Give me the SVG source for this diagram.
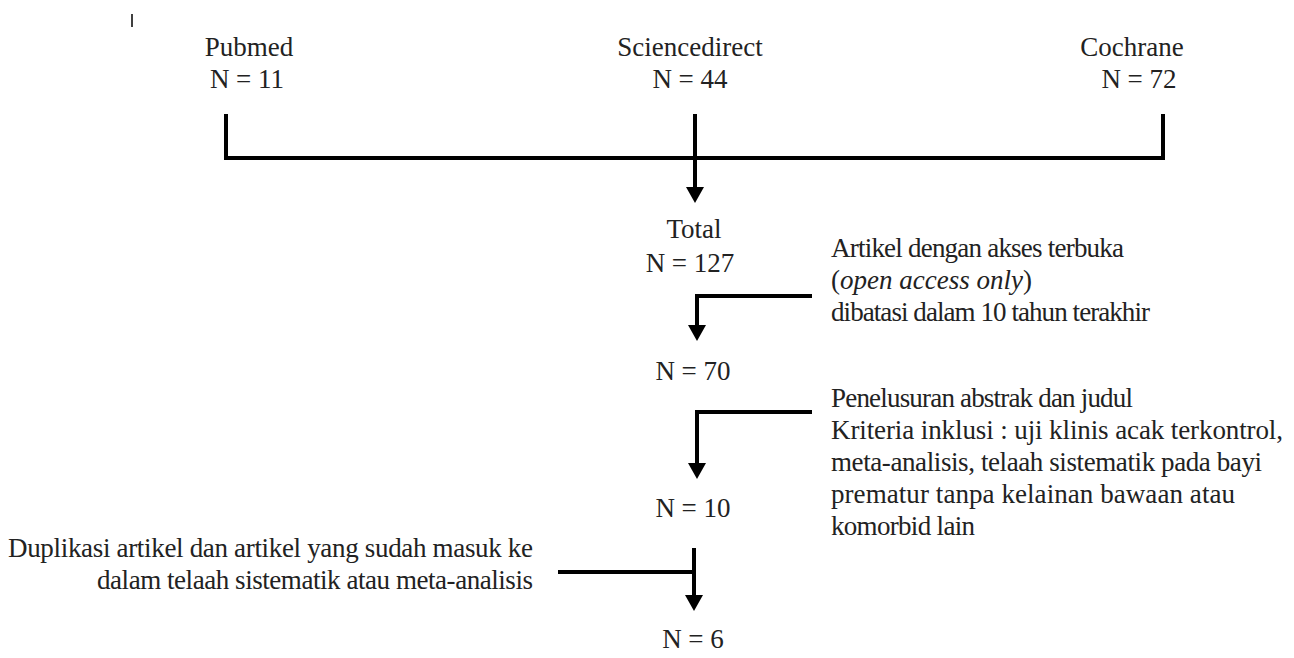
<svg xmlns="http://www.w3.org/2000/svg" width="1294" height="658" viewBox="0 0 1294 658">
<style>
.t{font-family:"Liberation Serif","Times New Roman",Tinos,"DejaVu Serif","Noto Serif",serif;font-size:27px;fill:#222}
.c{text-anchor:middle}
.r{text-anchor:end}
.ln{fill:none;stroke:#000;stroke-width:4;stroke-linejoin:miter;stroke-linecap:butt}
</style>
<defs>
<marker id="ah" viewBox="0 0 16 18" refX="0" refY="9" markerWidth="16" markerHeight="18" markerUnits="userSpaceOnUse" orient="auto">
<path d="M0,0 L16,9 L0,18 z" fill="#000"/>
</marker>
</defs>
<rect width="1294" height="658" fill="#fff"/>
<line x1="132" y1="14" x2="132" y2="27" stroke="#000" stroke-width="1.5"/>
<g id="pubmed" font-family="Liberation Serif, serif"><text class="t c" x="249" y="56">Pubmed</text><text class="t c" x="247" y="88">N = 11</text></g>
<g id="sciencedirect"><text class="t c" x="690" y="56">Sciencedirect</text><text class="t c" x="690" y="88">N = 44</text></g>
<g id="cochrane"><text class="t c" x="1132" y="56">Cochrane</text><text class="t c" x="1139" y="88">N = 72</text></g>
<g id="total"><text class="t c" x="694" y="238">Total</text><text class="t c" x="690" y="272">N = 127</text></g>
<g id="n70"><text class="t c" x="693" y="380">N = 70</text></g>
<g id="n10"><text class="t c" x="693" y="517">N = 10</text></g>
<g id="n6"><text class="t c" x="693" y="648">N = 6</text></g>
<g id="filter1">
<text class="t" x="831" y="257" textLength="293" lengthAdjust="spacing">Artikel dengan akses terbuka</text>
<text class="t" x="831" y="289">(<tspan font-style="italic">open access only</tspan>)</text>
<text class="t" x="831" y="321" textLength="319" lengthAdjust="spacing">dibatasi dalam 10 tahun terakhir</text>
</g>
<g id="filter2">
<text class="t" x="831" y="407" textLength="302" lengthAdjust="spacing">Penelusuran abstrak dan judul</text>
<text class="t" x="831" y="439" textLength="452" lengthAdjust="spacing">Kriteria inklusi : uji klinis acak terkontrol,</text>
<text class="t" x="831" y="471" textLength="431" lengthAdjust="spacing">meta-analisis, telaah sistematik pada bayi</text>
<text class="t" x="831" y="503" textLength="404" lengthAdjust="spacing">prematur tanpa kelainan bawaan atau</text>
<text class="t" x="831" y="535" textLength="144" lengthAdjust="spacing">komorbid lain</text>
</g>
<g id="filter3">
<text class="t r" x="533" y="557" textLength="525" lengthAdjust="spacing">Duplikasi artikel dan artikel yang sudah masuk ke</text>
<text class="t r" x="533" y="589" textLength="436" lengthAdjust="spacing">dalam telaah sistematik atau meta-analisis</text>
</g>
<g id="connectors">
<path class="ln" d="M226,114 V158 H1163 V114"/>
<path class="ln" d="M695,114 V187" marker-end="url(#ah)"/>
<path class="ln" d="M812,296 H697 V325" marker-end="url(#ah)"/>
<path class="ln" d="M812,412 H697 V463" marker-end="url(#ah)"/>
<path class="ln" d="M558,572 H694"/>
<path class="ln" d="M694,548 V595" marker-end="url(#ah)"/>
</g>
</svg>
